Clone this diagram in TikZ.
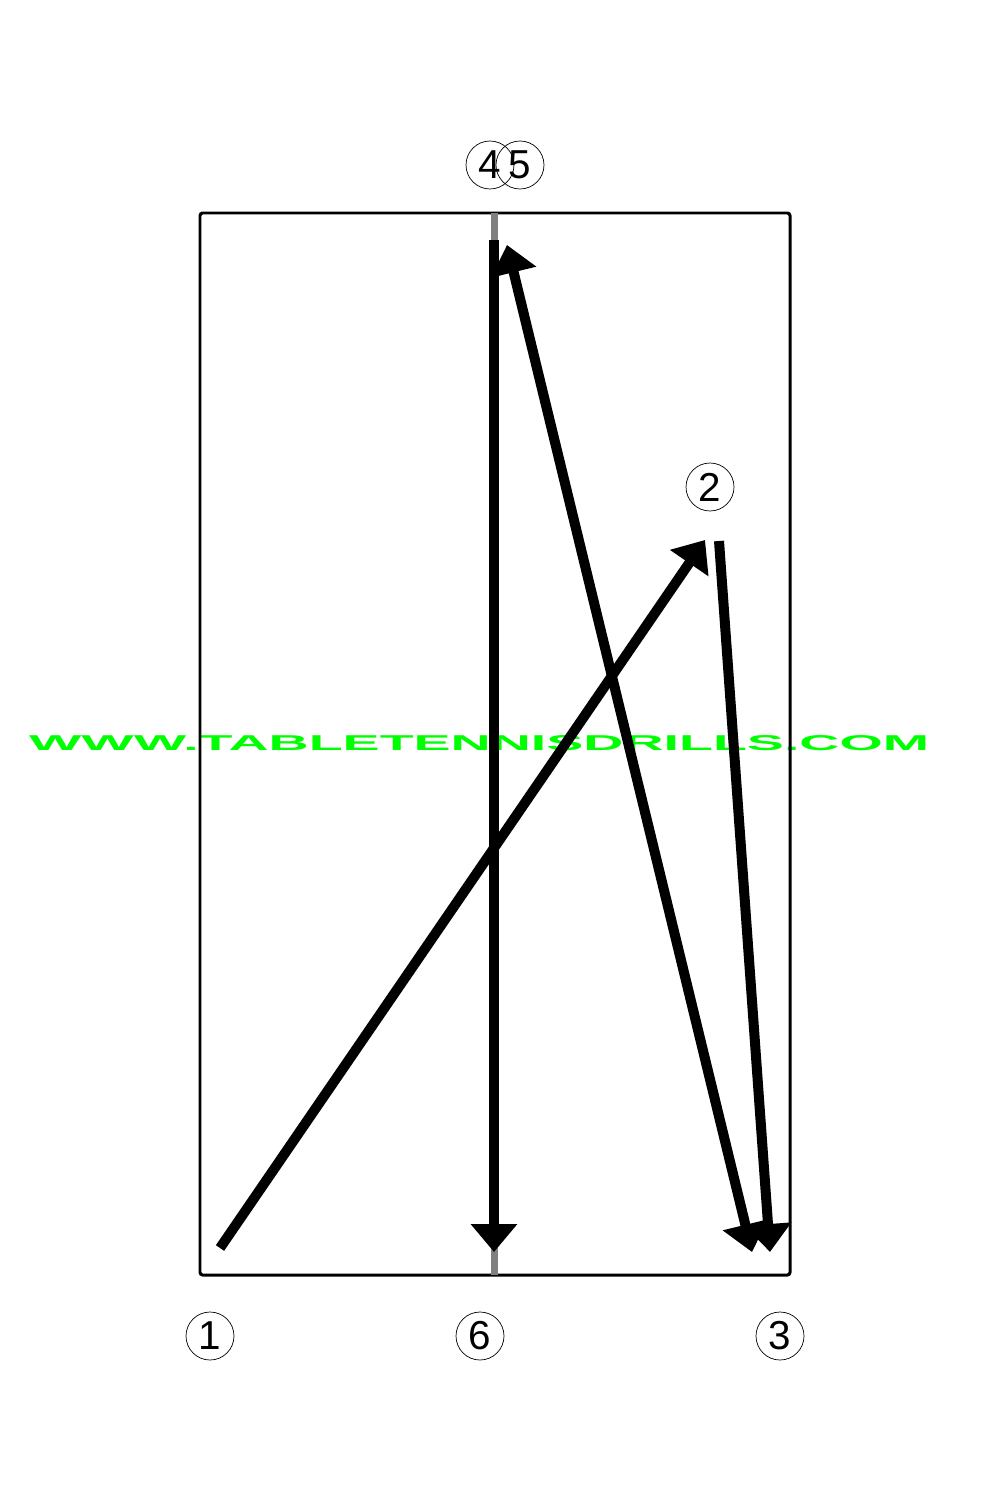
\documentclass[tikz,border=0pt]{standalone}
\usepackage{fontspec}
\setmainfont{Liberation Sans}
\usetikzlibrary{arrows.meta}
\definecolor{wmgreen}{RGB}{0,255,0}

\begin{document}
\begin{tikzpicture}[x=0.02cm, y=-0.02cm, every node/.style={scale=1}]
        \pgfdeclarelayer{nodelayer}
        \pgfdeclarelayer{edgelayer}
        \pgfsetlayers{nodelayer,edgelayer}
        \tikzstyle{label}=[draw=black, line width=0.4pt, shape=circle, inner sep=0pt, minimum size=0.96cm, font=\fontsize{23}{23}\selectfont]
        \tikzstyle{table}=[line width=1.7pt, rounded corners=1.5pt]
        \tikzstyle{centre line}=[line width=0.14cm, draw=gray]
        \tikzstyle{shot}=[line width=0.2cm, -{Triangle[width=0.9cm, length=0.56cm]}]
        \tikzstyle{two way shot}=[line width=0.2cm, {Triangle[width=0.9cm, length=0.56cm]}-{Triangle[width=0.9cm, length=0.56cm]}]
        %\tikzstyle{shot}=[->, thick]
        \useasboundingbox (0,0) rectangle (1000,1500);
        \begin{pgfonlayer}{nodelayer}
            \coordinate (t1) at (200, 213);
            \coordinate (t2) at (790, 1275);
            \coordinate (c1) at (494, 213);
            \coordinate (c2) at (494, 1275);
            \coordinate (a) at (220, 1248);
            \coordinate (b) at (705, 540);
            \coordinate (c) at (719, 541);
            \coordinate (d) at (770, 1252);
            \coordinate (e) at (752, 1252);
            \coordinate (f) at (507, 245);
            \coordinate (g) at (494, 240);
            \coordinate (h) at (494, 1252);
            \node (w) at (479, 743) {\resizebox{18cm}{0.3cm}{\color{wmgreen}\bfseries WWW.TABLETENNISDRILLS.COM}};
        \end{pgfonlayer}
        \begin{pgfonlayer}{edgelayer}
            \draw [style=table] (t1) rectangle (t2);
            \draw [style=centre line] (c1) to (c2);

            \draw [style=shot] (a) to (b);
            \draw [style=shot] (c) to (d);
            \draw [style=two way shot] (f) to (e);
            \draw [style=shot] (g) to (h);

            \node [style=label] (1) at (210, 1336) {1};
            \node [style=label] (2) at (710, 487) {2};
            \node [style=label] (3) at (780, 1336) {3};
            \node [style=label] (4) at (490, 165) {4};
            \node [style=label] (5) at (520, 165) {5};
            \node [style=label] (6) at (480, 1336) {6};
        \end{pgfonlayer}
    \end{tikzpicture}
\end{document}
